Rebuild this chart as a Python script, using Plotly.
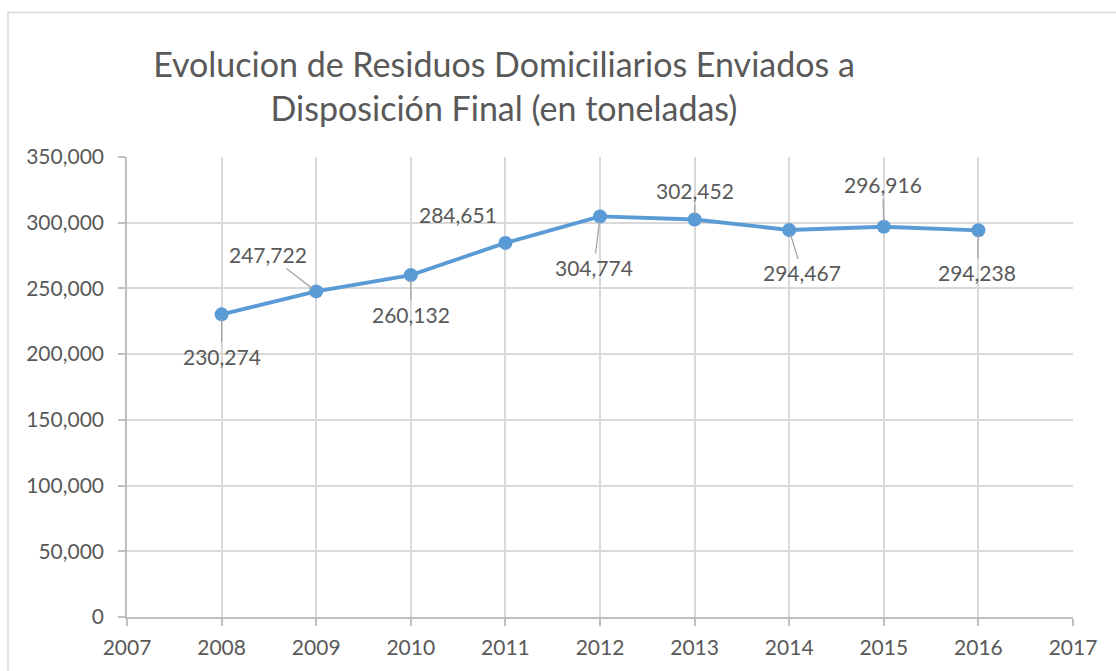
import plotly.graph_objects as go

years = [2008, 2009, 2010, 2011, 2012, 2013, 2014, 2015, 2016]
tonnes = [230274, 247722, 260132, 284651, 304774, 302452, 294467, 296916, 294238]
x_ticks = list(range(2007, 2018))
y_ticks = list(range(0, 350001, 50000))
title_lines = ["Evolucion de Residuos Domiciliarios Enviados a", "Disposición Final (en toneladas)"]

# label offsets (pixels) relative to each point: (ax, ay, use_arrow)
label_offsets = [(0, 42, True), (-48, -37, True), (0, 39, True), (-47, -28, False),
                 (-6, 51, True), (0, -29, True), (13, 43, True), (-1, -42, True), (-1, 42, True)]

FONT = "Lato"
TXT = "#595959"

fig = go.Figure()
fig.add_trace(go.Scatter(
    x=years, y=tonnes, mode="lines+markers",
    line=dict(color="#5B9BD5", width=3.8),
    marker=dict(color="#5B9BD5", size=14),
    hoverinfo="skip", showlegend=False,
))

annotations = []
for xv, yv, (ax, ay, arrow) in zip(years, tonnes, label_offsets):
    txt = f"{yv:,}"
    if arrow:
        annotations.append(dict(
            x=xv, y=yv, xref="x", yref="y", text=txt, showarrow=True,
            ax=ax, ay=ay, arrowhead=0, arrowwidth=1.3, arrowcolor="#a6a6a6",
            standoff=5, font=dict(family=FONT, size=21, color=TXT),
        ))
    else:
        annotations.append(dict(
            x=xv, y=yv, xref="x", yref="y", text=txt, showarrow=False,
            xshift=ax, yshift=-ay, font=dict(family=FONT, size=21, color=TXT),
        ))

fig.update_layout(
    width=1116, height=671,
    margin=dict(l=127, r=43, t=157, b=54),
    paper_bgcolor="white", plot_bgcolor="white",
    title=dict(
        text="<br>".join(title_lines),
        x=504 / 1116, xanchor="center", xref="container",
        y=1 - 77 / 671, yanchor="top", yref="container",
        font=dict(family=FONT, size=34, color=TXT),
    ),
    xaxis=dict(
        range=[2007, 2017], tickvals=x_ticks, ticktext=[str(v) for v in x_ticks],
        showgrid=True, gridcolor="#d9d9d9", gridwidth=1.5,
        showline=True, linecolor="#bfbfbf", linewidth=1.5,
        ticks="outside", ticklen=7, tickcolor="#bfbfbf", tickwidth=1.5,
        tickfont=dict(family=FONT, size=21, color=TXT),
        zeroline=False, mirror=False, fixedrange=True, ticklabelstandoff=4,
    ),
    yaxis=dict(
        range=[0, 350000], tickvals=y_ticks, ticktext=[f"{v:,}" for v in y_ticks],
        showgrid=True, gridcolor="#d9d9d9", gridwidth=1.5,
        showline=True, linecolor="#bfbfbf", linewidth=1.5,
        ticks="outside", ticklen=7, tickcolor="#bfbfbf", tickwidth=1.5,
        tickfont=dict(family=FONT, size=21, color=TXT),
        zeroline=False, fixedrange=True, ticklabelstandoff=10,
    ),
    annotations=annotations,
    shapes=[dict(
        type="rect", xref="paper", yref="paper",
        x0=(8 - 127) / 946, x1=1.2, y0=-0.3, y1=(617 - 12.5) / 460,
        line=dict(color="#d9d9d9", width=1.5), fillcolor="rgba(0,0,0,0)", layer="below",
    )],
)

fig.write_html("out.html", config={"displayModeBar": False},
               post_script="document.body.style.margin='0';")
